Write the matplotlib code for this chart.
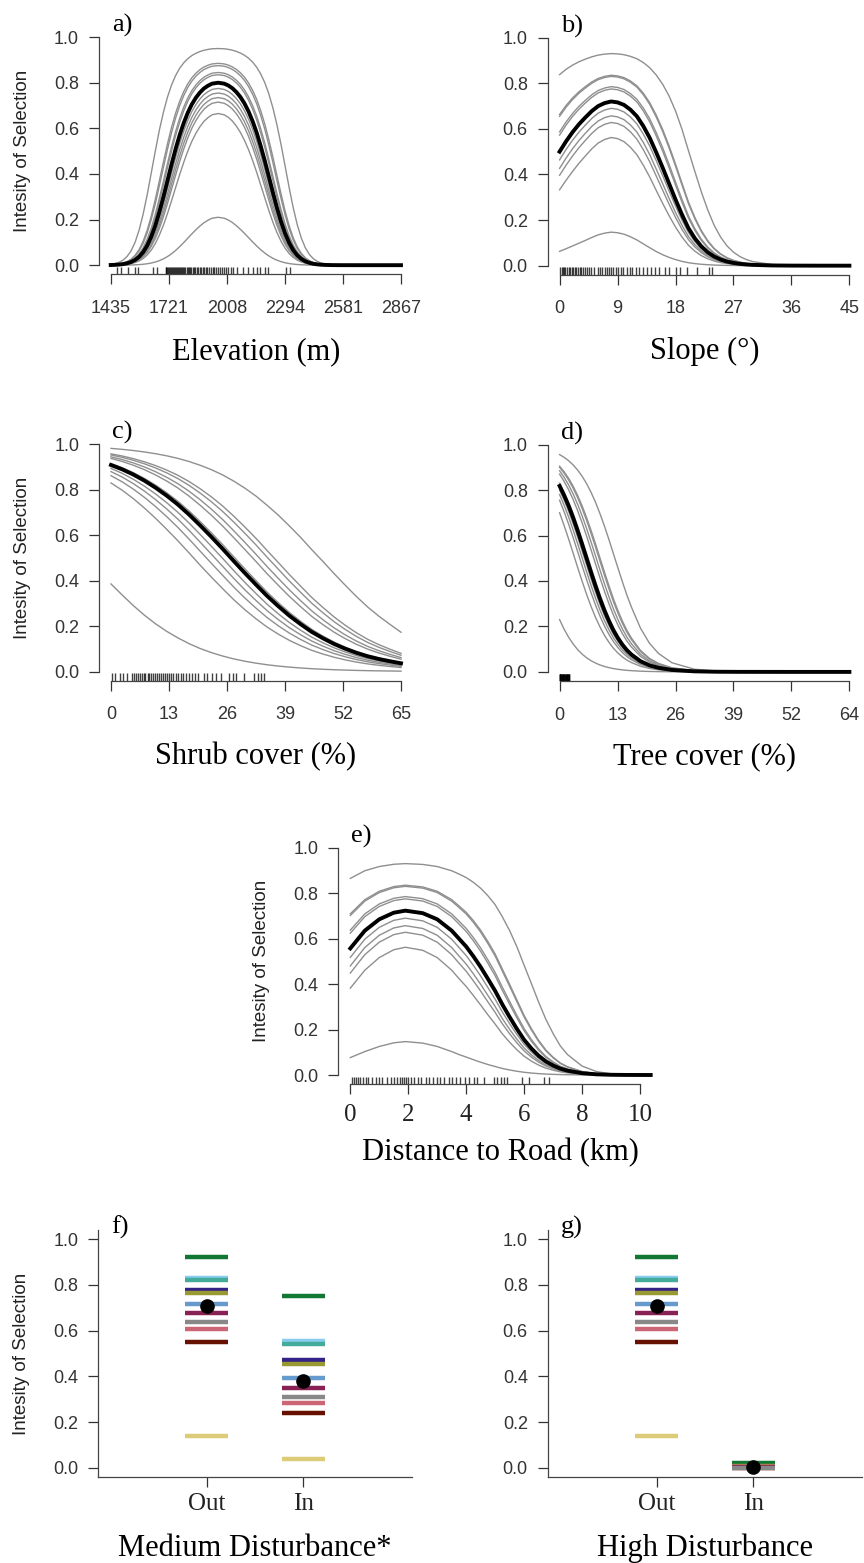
import numpy as np
import matplotlib.pyplot as plt

plt.rcParams['font.family'] = 'Liberation Sans'
SERIF = 'Liberation Serif'

# ---------------- data ----------------
# mean (population) curves, sampled along each covariate
elev_x = [1435, 1455, 1475, 1495, 1515, 1535, 1555, 1575, 1595, 1615, 1635, 1655, 1675, 1695,
          1715, 1735, 1755, 1775, 1795, 1815, 1835, 1855, 1875, 1895, 1915, 1935, 1965, 1995,
          2015, 2035, 2055, 2075, 2095, 2115, 2135, 2155, 2175, 2195, 2215, 2235, 2255, 2275,
          2295, 2315, 2335, 2355, 2375, 2395, 2415, 2435, 2455, 2475, 2495, 2525, 2565, 2650,
          2750, 2867]
elev_mean = [0.00074, 0.0014, 0.00257, 0.00461, 0.00808, 0.0138, 0.0228, 0.0367, 0.0572, 0.0861,
             0.125, 0.174, 0.234, 0.300, 0.371, 0.442, 0.509, 0.570, 0.623, 0.668, 0.705, 0.734,
             0.757, 0.775, 0.787, 0.796, 0.800, 0.796, 0.788, 0.776, 0.759, 0.737, 0.709, 0.674,
             0.631, 0.581, 0.522, 0.458, 0.389, 0.319, 0.252, 0.192, 0.140, 0.0984, 0.0667,
             0.0437, 0.0278, 0.0171, 0.0103, 0.006, 0.00343, 0.00191, 0.00104, 0.0004, 0.0001,
             0.000005, 0.0000002, 0.00000001]

slope_x = [0, 1, 2, 3, 4, 5, 6, 7, 8, 9, 10, 11, 12, 13, 14, 15, 16, 17, 18, 19, 20, 21, 22,
           23, 24, 25, 26, 27, 28, 29, 30, 33, 36, 40, 45]
slope_mean = [0.50, 0.545, 0.585, 0.62, 0.65, 0.678, 0.70, 0.713, 0.72, 0.716, 0.705, 0.684,
              0.655, 0.612, 0.56, 0.497, 0.43, 0.36, 0.29, 0.224, 0.165, 0.12, 0.085, 0.059,
              0.04, 0.027, 0.018, 0.012, 0.008, 0.0053, 0.0035, 0.001, 0.0003, 0.00005, 0.00001]

shrub_x = [0, 2.5, 5, 7.5, 10, 12.5, 15, 17.5, 20, 22.5, 25, 27.5, 30, 32.5, 35, 37.5, 40, 42.5,
           45, 47.5, 50, 52.5, 55, 57.5, 60, 62.5, 65]
shrub_mean = [0.909, 0.890, 0.867, 0.840, 0.809, 0.774, 0.735, 0.691, 0.643, 0.593, 0.541, 0.487,
              0.434, 0.383, 0.333, 0.288, 0.246, 0.209, 0.175, 0.147, 0.122, 0.101, 0.083,
              0.068, 0.056, 0.046, 0.037]

tree_x = [0, 1, 2, 3, 4, 5, 6, 7, 8, 9, 10, 11, 12, 13, 14, 15, 16, 18, 20, 22, 25, 30, 35, 40,
          50, 64.5]
tree_mean = [0.818, 0.777, 0.731, 0.679, 0.622, 0.562, 0.50, 0.438, 0.378, 0.321, 0.269, 0.223,
             0.182, 0.148, 0.119, 0.095, 0.076, 0.047, 0.029, 0.018, 0.0086, 0.0025, 0.0007,
             0.0002, 0.00002, 0.0000005]

road_x = [0, 0.5, 1.0, 1.5, 1.9, 2.5, 3.0, 3.5, 3.75, 4.0, 4.25, 4.5, 4.75, 5.0, 5.25, 5.5,
          5.75, 6.0, 6.25, 6.5, 6.75, 7.0, 7.25, 7.5, 8.0, 8.5, 9.0, 9.5, 10.37]
road_mean = [0.557, 0.635, 0.685, 0.714, 0.723, 0.712, 0.685, 0.635, 0.60, 0.565, 0.522, 0.475,
             0.423, 0.37, 0.31, 0.255, 0.203, 0.155, 0.117, 0.085, 0.06, 0.042, 0.028, 0.019,
             0.008, 0.003, 0.001, 0.0003, 0.00003]

# individual curves: value of each individual where the mean curve equals *_ref
elev_ref = 0.80
elev_ind = [0.95, 0.885, 0.875, 0.845, 0.835, 0.775, 0.755, 0.735, 0.715, 0.665, 0.21]
slope_ref = 0.72
slope_ind = [0.93, 0.835, 0.83, 0.785, 0.775, 0.72, 0.69, 0.657, 0.628, 0.562, 0.147]
shrub_ref = 0.909
shrub_ind = [0.982, 0.958, 0.953, 0.945, 0.938, 0.915, 0.894, 0.880, 0.862, 0.830, 0.386]
tree_ref = 0.818
tree_ind = [0.956, 0.905, 0.90, 0.885, 0.87, 0.83, 0.80, 0.78, 0.755, 0.70, 0.23]
road_ref = 0.723
road_ind = [0.93, 0.835, 0.83, 0.785, 0.775, 0.72, 0.69, 0.657, 0.628, 0.562, 0.147]

# rug (observed locations)
elev_rug = [1464, 1484, 1519, 1555, 1571, 1645, 1662, 1706, 1708, 1712, 1718, 1722, 1727, 1731,
            1736, 1742, 1745, 1751, 1756, 1760, 1766, 1771, 1775, 1780, 1787, 1792, 1798, 1803,
            1809, 1815, 1822, 1828, 1833, 1840, 1846, 1853, 1861, 1868, 1874, 1882, 1890, 1897,
            1905, 1912, 1921, 1930, 1938, 1947, 1955, 1966, 1975, 1983, 1994, 2003, 2015, 2026,
            2038, 2056, 2089, 2114, 2138, 2155, 2171, 2196, 2212, 2302, 2319]
slope_rug = [0.1, 0.3, 0.5, 0.7, 0.9, 1.2, 1.4, 1.6, 1.9, 2.1, 2.4, 2.6, 2.9, 3.2, 3.4, 3.7, 4.0,
             4.3, 4.6, 4.9, 5.3, 6.0, 6.3, 6.6, 7.0, 7.3, 7.6, 8.0, 8.3, 8.7, 9.1, 9.5, 9.9,
             10.4, 10.9, 11.3, 11.9, 12.4, 12.9, 13.5, 14.2, 14.8, 15.5, 16.4, 17.0, 18.0, 18.7,
             19.8, 21.3, 23.2, 23.7]
shrub_rug = [0.15, 0.9, 2.0, 2.8, 3.5, 4.7, 5.1, 5.6, 6.0, 6.4, 6.9, 7.3, 7.7, 8.2, 8.6, 9.0,
             9.5, 9.9, 10.3, 10.8, 11.2, 11.7, 12.1, 12.6, 13.0, 13.5, 14.0, 14.5, 15.1, 15.6,
             16.2, 16.9, 17.5, 18.2, 18.9, 19.6, 20.9, 21.6, 22.7, 23.5, 24.6, 26.5, 27.3, 28.0,
             29.9, 32.1, 32.9, 33.7, 34.4]
tree_rug = [0, 0, 0, 0.05, 0.15, 0.25, 0.35, 0.45, 0.55, 0.65, 0.75, 0.85, 0.95, 1.05, 1.15,
            1.25, 1.35, 1.45, 1.55, 1.65, 1.75, 1.85, 1.95, 2.05, 2.15, 2.2]
road_rug = [0.06, 0.12, 0.2, 0.28, 0.35, 0.45, 0.55, 0.62, 0.75, 0.88, 1.0, 1.1, 1.25, 1.4,
            1.5, 1.6, 1.7, 1.78, 1.85, 1.92, 2.0, 2.08, 2.2, 2.35, 2.45, 2.6, 2.7, 2.85, 3.0,
            3.1, 3.25, 3.4, 3.5, 3.65, 3.8, 3.95, 4.1, 4.27, 4.39, 4.62, 4.96, 5.08, 5.19, 5.30,
            5.42, 5.93, 6.16, 6.68, 6.85]

# disturbance panels (one value per individual)
ind_colors = ["#332288", "#6699CC", "#88CCEE", "#44AA99", "#117733", "#999933",
              "#DDCC77", "#661100", "#CC6677", "#882255", "#888888"]
out_vals = [0.779, 0.717, 0.830, 0.820, 0.921, 0.763, 0.138, 0.552, 0.606, 0.676, 0.637]
med_in_vals = [0.471, 0.395, 0.556, 0.543, 0.753, 0.452, 0.037, 0.239, 0.284, 0.348, 0.310]
high_in_vals = [0.008, 0.004, 0.012, 0.011, 0.020, 0.006, 0.002, 0.001, 0.002, 0.003, 0.0]
out_mean = 0.706
med_in_mean = 0.381
high_in_mean = 0.003
groups = ['Out', 'In']

yticks = [0.0, 0.2, 0.4, 0.6, 0.8, 1.0]
ylab = 'Intesity of Selection'

# ---------------- drawing ----------------
W, H = 864.0, 1563.0
fig = plt.figure(figsize=(W / 100, H / 100), dpi=100)


def place(l, r, t, b):
    return fig.add_axes([l / W, 1 - b / H, (r - l) / W, (b - t) / H])


def logit(p):
    p = np.clip(np.asarray(p, float), 1e-12, 1 - 1e-12)
    return np.log(p / (1 - p))


def base_style(ax, letter, show_ylab):
    for s in ['top', 'right']:
        ax.spines[s].set_visible(False)
    for s in ['left', 'bottom']:
        ax.spines[s].set_color('#444444')
        ax.spines[s].set_linewidth(0.9)
    ax.set_ylim(-0.04, 1.04)
    ax.set_yticks(yticks)
    ax.set_yticklabels(['%.1f' % v for v in yticks])
    ax.tick_params(direction='out', length=7.5, width=0.9, colors='#333333', labelsize=13)
    ax.tick_params(axis='y', pad=7)
    ax.text(0.04, 1.01, letter, transform=ax.transAxes, fontsize=19, family=SERIF,
            ha='left', va='center')
    if show_ylab:
        wpx = ax.get_position().width * W
        ax.set_ylabel(ylab, fontsize=13.5, va='center', color='#222222')
        ax.yaxis.set_label_coords(-77 / wpx, 0.5)


def curve_panel(ax, x, mean, ref, inds, rug, tpos, tlab, xlabel, letter, show_ylab,
                lab_off, serif_ticks=False):
    x = np.asarray(x, float)
    lo, hi = x.min(), x.max()
    pad = 0.04 * (hi - lo)
    ax.set_xlim(lo - pad, hi + pad)
    base = logit(mean)
    for v in inds:
        ax.plot(x, 1 / (1 + np.exp(-(base + logit(v) - logit(ref)))), color='#8f8f8f', lw=1.0)
    ax.plot(x, mean, color='black', lw=2.8)
    ax.vlines(rug, 0, 0.03, transform=ax.get_xaxis_transform(), color='black', lw=1.0,
              alpha=0.75)
    base_style(ax, letter, show_ylab)
    ax.spines['left'].set_bounds(0, 1)
    ax.spines['bottom'].set_bounds(tpos[0], tpos[-1])
    ax.set_xticks(tpos)
    if serif_ticks:
        ax.set_xticklabels(tlab, fontsize=18, family=SERIF, color='#222222')
        ax.tick_params(axis='x', pad=7)
    else:
        ax.set_xticklabels(tlab)
        ax.tick_params(axis='x', pad=11)
    hpx = ax.get_position().height * H
    ax.set_xlabel(xlabel, fontsize=22, family=SERIF, va='center')
    ax.xaxis.set_label_coords(0.5, -lab_off / hpx)


def disturb_panel(ax, in_vals, in_mean, xlabel, letter, show_ylab):
    ax.set_xlim(-0.12, 3.12)
    for pos, vals in [(1, out_vals), (2, in_vals)]:
        for v, c in zip(vals, ind_colors):
            ax.hlines(v, pos - 0.225, pos + 0.225, color=c, lw=3.2)
    ax.plot([1, 2], [out_mean, in_mean], 'o', color='black', ms=9.5)
    base_style(ax, letter, show_ylab)
    ax.set_xticks([1, 2])
    ax.set_xticklabels(groups, fontsize=18, family=SERIF, color='#222222')
    ax.tick_params(axis='x', pad=4)
    hpx = ax.get_position().height * H
    ax.set_xlabel(xlabel, fontsize=22, family=SERIF, va='center')
    ax.xaxis.set_label_coords(0.5, -71 / hpx)


ax_a = place(99.1, 412.6, 28.0, 274.3)
curve_panel(ax_a, elev_x, elev_mean, elev_ref, elev_ind, elev_rug,
            np.linspace(1435, 2867, 6), ['1435', '1721', '2008', '2294', '2581', '2867'],
            'Elevation (m)', 'a)', True, 77)

ax_b = place(548.0, 861.0, 28.5, 274.8)
curve_panel(ax_b, slope_x, slope_mean, slope_ref, slope_ind, slope_rug,
            [0, 9, 18, 27, 36, 45], ['0', '9', '18', '27', '36', '45'],
            'Slope (°)', 'b)', False, 77)

ax_c = place(99.4, 412.6, 435.2, 680.8)
curve_panel(ax_c, shrub_x, shrub_mean, shrub_ref, shrub_ind, shrub_rug,
            [0, 13, 26, 39, 52, 65], ['0', '13', '26', '39', '52', '65'],
            'Shrub cover (%)', 'c)', True, 76)

ax_d = place(548.0, 861.0, 435.5, 681.0)
curve_panel(ax_d, tree_x, tree_mean, tree_ref, tree_ind, tree_rug,
            np.linspace(0, 64.5, 6), ['0', '13', '26', '39', '52', '64'],
            'Tree cover (%)', 'd)', False, 76)

ax_e = place(338.3, 662.7, 838.6, 1084.1)
curve_panel(ax_e, road_x, road_mean, road_ref, road_ind, road_rug,
            [0, 2, 4, 6, 8, 10], ['0', '2', '4', '6', '8', '10'],
            'Distance to Road (km)', 'e)', True, 68, serif_ticks=True)

ax_f = place(98.3, 411.7, 1230.0, 1477.0)
disturb_panel(ax_f, med_in_vals, med_in_mean, 'Medium Disturbance*', 'f)', True)

ax_g = place(548.0, 862.0, 1230.0, 1477.0)
disturb_panel(ax_g, high_in_vals, high_in_mean, 'High Disturbance', 'g)', False)

fig.savefig('out.png', dpi=100)
